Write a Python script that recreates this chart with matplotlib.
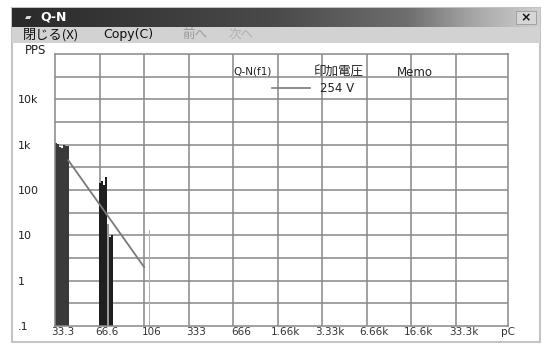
import numpy as np
import matplotlib
matplotlib.use("Agg")
import matplotlib.pyplot as plt
from matplotlib.colors import LinearSegmentedColormap
from matplotlib.lines import Line2D
from matplotlib.patches import Rectangle

plt.rcParams['font.family'] = ['DejaVu Sans', 'Noto Sans CJK JP']
JP = ['Noto Sans CJK JP', 'DejaVu Sans']

W, H = 542, 349

# ---- data -------------------------------------------------------------
x_labels = ["33.3", "66.6", "106", "333", "666", "1.66k", "3.33k",
            "6.66k", "16.6k", "33.3k", "pC"]
y_ticks = [0.1, 1, 10, 100, 1e3, 1e4]
y_labels = [".1", "1", "10", "100", "1k", "10k"]

# histogram bins: left edge on the channel axis (column units), width, count
bin_left = [0.011, 0.055, 0.099, 0.143, 0.188, 0.232, 0.276,
            0.993, 1.038, 1.082, 1.126, 1.170, 1.214, 1.258, 1.291,
            2.120]
bin_width = [0.044] * 7 + [0.044] * 7 + [0.02, 0.02]
bin_count = [1100, 1050, 880, 850, 1000, 930, 950,
             140, 160, 130, 190, 18, 9, 10, 25,
             13]
bin_color = ['#3a3a3a'] * 7 + ['#1f1f1f'] * 4 + ['#9a9a9a'] + ['#1f1f1f'] * 2 + ['#a8a8a8', '#b0b0b0']

# fitted Q-N line
fit_x = [0.30, 2.0]
fit_y = [450, 2.0]

series_name = "Q-N(f1)"
voltage_head = "印加電圧"
memo_head = "Memo"
voltage_value = "254 V"

# ---- figure & window chrome -------------------------------------------
fig = plt.figure(figsize=(W / 100, H / 100), dpi=100)
bg = fig.add_axes([0, 0, 1, 1])
bg.set_xlim(0, W)
bg.set_ylim(H, 0)
bg.axis('off')

# window body
bg.add_patch(Rectangle((12, 8), 528, 334, facecolor='white',
                       edgecolor='#c4c4c4', lw=1.5))
# title bar gradient
cmap = LinearSegmentedColormap.from_list(
    'tb', [(0, '#2a2a2a'), (0.5, '#4a4a4a'), (0.75, '#6e6e6e'),
           (0.88, '#a8a8a8'), (1, '#cfcfcf')])
grad = np.linspace(0, 1, 256)[None, :]
bg.imshow(grad, cmap=cmap, aspect='auto', extent=(12, 540, 27, 8), zorder=2)
bg.text(28, 17.5, "▰", color='#dddddd', fontsize=6, va='center', ha='center', zorder=3)
bg.text(40, 17.5, "Q-N", color='white', fontsize=9, fontweight='bold',
        va='center', ha='left', zorder=3)
bg.add_patch(Rectangle((516, 11), 20, 13, facecolor='#d6d6d6',
                       edgecolor='#9a9a9a', lw=0.6, zorder=3))
bg.text(526, 17.5, "×", color='#111111', fontsize=9, fontweight='bold',
        va='center', ha='center', zorder=4)

# menu bar
bg.add_patch(Rectangle((12, 27), 528, 16, facecolor='#d2d2d2',
                       edgecolor='none', zorder=2))
bg.text(23, 34.5, "閉じる(X)", family=JP, fontsize=9.5, color='#111111',
        va='center', ha='left', zorder=3)
bg.text(103, 34.5, "Copy(C)", fontsize=9, color='#111111',
        va='center', ha='left', zorder=3)
bg.text(182, 34.5, "前へ", family=JP, fontsize=9, color='#9a9a9a',
        va='center', ha='left', zorder=3)
bg.text(229, 34.5, "次へ", family=JP, fontsize=9, color='#b0b0b0',
        va='center', ha='left', zorder=3)

bg.text(25, 50, "PPS", fontsize=8.5, color='#222222', va='center', ha='left', zorder=3)

# ---- chart ------------------------------------------------------------
L, R, T, B = 55, 508, 54, 326
ax = fig.add_axes([L / W, 1 - B / H, (R - L) / W, (B - T) / H])
ax.set_facecolor('white')
ax.set_xlim(0, 10)
ax.set_yscale('log')
ax.set_ylim(0.1, 1e5)

grid_c = '#888888'
for i in range(1, 10):
    ax.axvline(i, color=grid_c, lw=1.1, zorder=1)
for k in range(-1, 10):
    ax.axhline(10 ** (k / 2), color=grid_c, lw=1.1, zorder=1)

ax.bar(bin_left, [c - 0.1 for c in bin_count], width=bin_width, bottom=0.1,
       align='edge', color=bin_color, edgecolor='none', zorder=2)
ax.plot(fit_x, fit_y, color='#7a7a7a', lw=1.3, zorder=3)

for s in ax.spines.values():
    s.set_color(grid_c)
    s.set_linewidth(1.1)

ax.set_xticks(np.arange(len(x_labels)) + 0.17)
ax.set_xticklabels(x_labels, fontsize=7.5, color='#333333')
ax.tick_params(axis='x', length=0, pad=0.5)
ax.set_yticks(y_ticks)
ax.set_yticklabels(y_labels, fontsize=8, color='#222222', ha='left')
ax.yaxis.set_minor_locator(matplotlib.ticker.NullLocator())
ax.tick_params(axis='y', length=0, pad=(L - 18) * 0.72)

# legend block
fig.text(233 / W, 1 - 71 / H, series_name, fontsize=7.5, color='#222222',
         va='center', ha='left')
fig.text(314 / W, 1 - 72 / H, voltage_head, family=JP, fontsize=9,
         color='#222222', va='center', ha='left')
fig.text(397 / W, 1 - 72 / H, memo_head, fontsize=8.5, color='#222222',
         va='center', ha='left')
fig.add_artist(Line2D([272 / W, 310 / W], [1 - 88 / H, 1 - 88 / H],
                      color='#7a7a7a', lw=1.2, transform=fig.transFigure))
fig.text(320 / W, 1 - 88 / H, voltage_value, fontsize=8.5, color='#222222',
         va='center', ha='left')

fig.savefig("out.png", dpi=100)
